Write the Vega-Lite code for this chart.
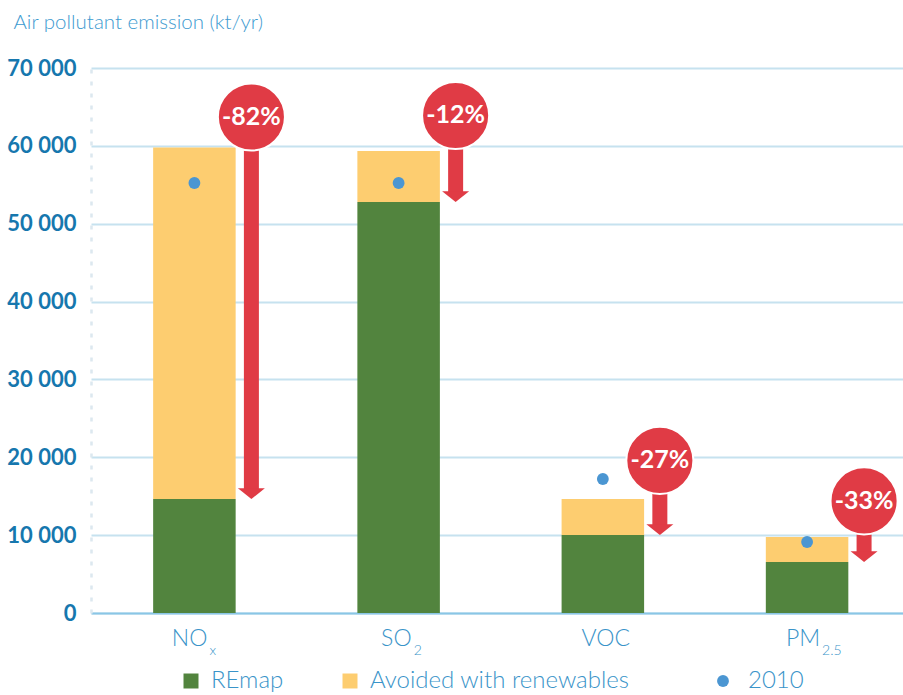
{
  "$schema": "https://vega.github.io/schema/vega-lite/v6.json",
  "width": 812,
  "height": 545,
  "autosize": {"type": "none"},
  "padding": {"left": 91, "top": 68, "right": 0, "bottom": 82},
  "background": "white",
  "config": {
    "view": {"stroke": null},
    "font": "Lato",
    "locale": {"number": {"decimal": ".", "thousands": " ", "grouping": [3], "currency": ["", ""]}},
    "numberFormat": ",d",
    "axisY": {
      "titleAngle": 0,
      "titleAlign": "left",
      "titleBaseline": "alphabetic",
      "titleX": -78,
      "titleY": -40,
      "titleFont": "Lato",
      "titleFontWeight": 300,
      "titleFontSize": 20.5,
      "titleColor": "#3d9ad0",
      "tickCount": 7,
      "labelFont": "Lato",
      "labelFontWeight": "bold",
      "labelFontSize": 22,
      "labelColor": "#1677ae",
      "labelPadding": 15,
      "labelBaseline": "middle",
      "ticks": false,
      "grid": true,
      "gridColor": "#c6e2ef",
      "gridWidth": 2,
      "domain": true,
      "domainColor": "#dce8ef",
      "domainWidth": 2.5,
      "domainDash": [4, 8]
    },
    "axisX": {
      "labels": false,
      "ticks": false,
      "grid": false,
      "domain": true,
      "domainColor": "#8ac6e6",
      "domainWidth": 2
    },
    "legend": {
      "orient": "none",
      "direction": "horizontal",
      "padding": 0,
      "symbolStrokeWidth": 0,
      "labelFont": "Lato",
      "labelFontWeight": 300,
      "labelFontSize": 24,
      "labelColor": "#3a94c9",
      "labelLimit": 0
    }
  },
  "datasets": {
    "emissions": [
      {"pollutant": "NOx", "series": "REmap", "value": 14640},
      {"pollutant": "NOx", "series": "Avoided with renewables", "value": 45160},
      {"pollutant": "SO2", "series": "REmap", "value": 52790},
      {"pollutant": "SO2", "series": "Avoided with renewables", "value": 6550},
      {"pollutant": "VOC", "series": "REmap", "value": 10020},
      {"pollutant": "VOC", "series": "Avoided with renewables", "value": 4620},
      {"pollutant": "PM2.5", "series": "REmap", "value": 6550},
      {"pollutant": "PM2.5", "series": "Avoided with renewables", "value": 3210}
    ],
    "summary": [
      {"pollutant": "NOx", "main": "NO", "sub": "x", "remap": 14640, "base2010": 55230, "change": "-82%", "badge": 63700},
      {"pollutant": "SO2", "main": "SO", "sub": "2", "remap": 52790, "base2010": 55230, "change": "-12%", "badge": 63900},
      {"pollutant": "VOC", "main": "VOC", "sub": "", "remap": 10020, "base2010": 17210, "change": "-27%", "badge": 19600},
      {"pollutant": "PM2.5", "main": "PM", "sub": "2.5", "remap": 6550, "base2010": 9120, "change": "-33%", "badge": 14400}
    ]
  },
  "encoding": {
    "x": {
      "field": "pollutant",
      "type": "nominal",
      "title": null,
      "sort": ["NOx", "SO2", "VOC", "PM2.5"],
      "scale": {"paddingInner": 0.596, "paddingOuter": 0.286, "align": 0.532}
    }
  },
  "layer": [
    {
      "data": {"name": "emissions"},
      "mark": {"type": "bar"},
      "encoding": {
        "y": {
          "field": "value",
          "type": "quantitative",
          "stack": "zero",
          "title": "Air pollutant emission (kt/yr)",
          "scale": {"domain": [0, 70000], "nice": false}
        },
        "color": {
          "field": "series",
          "type": "nominal",
          "scale": {
            "domain": ["REmap", "Avoided with renewables"],
            "range": ["#52843e", "#fdcd70"]
          },
          "legend": {
            "title": null,
            "legendX": 88,
            "legendY": 601,
            "symbolType": "square",
            "symbolSize": 225,
            "labelOffset": 8,
            "columnPadding": 54
          }
        },
        "order": {"field": "series", "sort": "descending"}
      }
    },
    {
      "data": {"name": "summary"},
      "mark": {"type": "point", "filled": true, "opacity": 1, "size": 140, "color": "#4b96d2"},
      "encoding": {
        "y": {"field": "base2010", "type": "quantitative", "title": "Air pollutant emission (kt/yr)"},
        "shape": {
          "datum": "2010",
          "type": "nominal",
          "scale": {"domain": ["2010"], "range": ["circle"]},
          "legend": {
            "title": null,
            "legendX": 620,
            "legendY": 601,
            "symbolSize": 140,
            "symbolFillColor": "#4b96d2",
            "labelOffset": 13
          }
        }
      }
    },
    {
      "data": {"name": "summary"},
      "mark": {"type": "rule", "color": "#e03b45", "strokeWidth": 15, "strokeCap": "butt", "xOffset": 57, "y2Offset": -9},
      "encoding": {
        "y": {"field": "badge", "type": "quantitative", "title": "Air pollutant emission (kt/yr)"},
        "y2": {"field": "remap"}
      }
    },
    {
      "data": {"name": "summary"},
      "mark": {"type": "point", "filled": true, "opacity": 1, "shape": "M-1,-0.8L1,-0.8L0,0Z", "size": 729, "color": "#e03b45", "xOffset": 57},
      "encoding": {
        "y": {"field": "remap", "type": "quantitative", "title": "Air pollutant emission (kt/yr)"}
      }
    },
    {
      "data": {"name": "summary"},
      "mark": {"type": "point", "shape": "circle", "filled": true, "opacity": 1, "size": 4500, "color": "#e03b45", "stroke": "white", "strokeWidth": 2, "xOffset": 57},
      "encoding": {
        "y": {"field": "badge", "type": "quantitative", "title": "Air pollutant emission (kt/yr)"}
      }
    },
    {
      "data": {"name": "summary"},
      "mark": {"type": "text", "font": "Lato", "fontWeight": "bold", "fontSize": 25, "color": "white", "align": "center", "baseline": "middle", "dx": 57},
      "encoding": {
        "y": {"field": "badge", "type": "quantitative", "title": "Air pollutant emission (kt/yr)"},
        "text": {"field": "change"}
      }
    },
    {
      "data": {"name": "summary"},
      "transform": [{"filter": "datum.sub !== ''"}],
      "mark": {"type": "text", "font": "Lato", "fontWeight": 300, "fontSize": 23, "color": "#3a94c9", "align": "right", "baseline": "alphabetic", "dx": 13, "dy": 33},
      "encoding": {
        "y": {"datum": 0, "type": "quantitative", "title": "Air pollutant emission (kt/yr)"},
        "text": {"field": "main"}
      }
    },
    {
      "data": {"name": "summary"},
      "transform": [{"filter": "datum.sub === ''"}],
      "mark": {"type": "text", "font": "Lato", "fontWeight": 300, "fontSize": 23, "color": "#3a94c9", "align": "center", "baseline": "alphabetic", "dx": 3, "dy": 33},
      "encoding": {
        "y": {"datum": 0, "type": "quantitative", "title": "Air pollutant emission (kt/yr)"},
        "text": {"field": "main"}
      }
    },
    {
      "data": {"name": "summary"},
      "transform": [{"filter": "datum.sub !== ''"}],
      "mark": {"type": "text", "font": "Lato", "fontWeight": 300, "fontSize": 14, "color": "#3a94c9", "align": "left", "baseline": "alphabetic", "dx": 15, "dy": 42},
      "encoding": {
        "y": {"datum": 0, "type": "quantitative", "title": "Air pollutant emission (kt/yr)"},
        "text": {"field": "sub"}
      }
    }
  ]
}
